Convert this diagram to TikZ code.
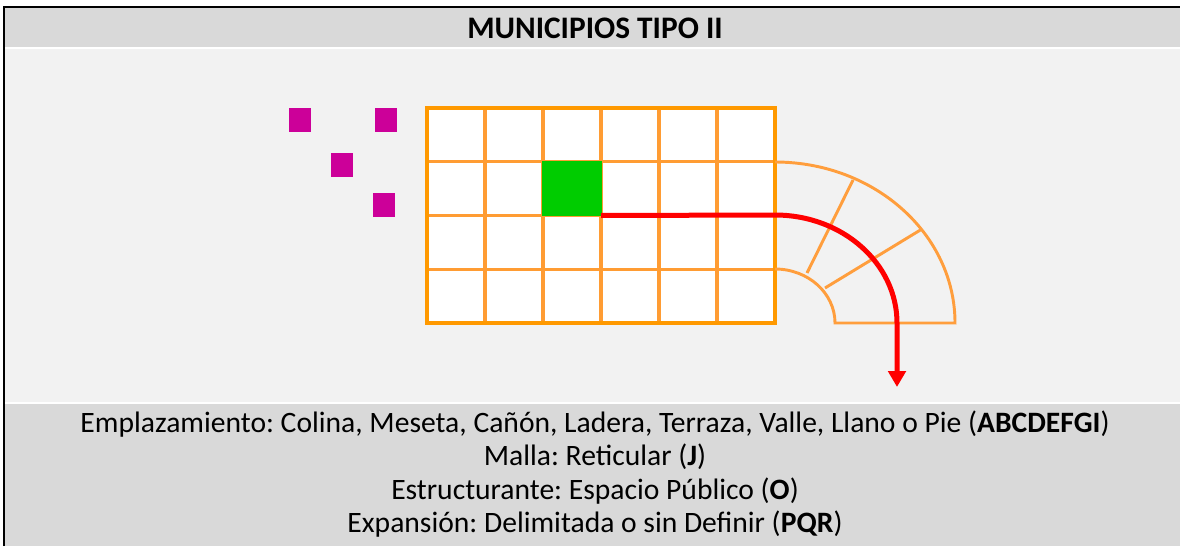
\documentclass[tikz,border=0pt]{standalone}
\usepackage{fontspec}
\setmainfont{Carlito}
\usetikzlibrary{arrows.meta,positioning}
\frenchspacing

\definecolor{hdrgray}{HTML}{D9D9D9}
\definecolor{panelgray}{HTML}{F2F2F2}
\definecolor{gridorange}{HTML}{FF9900}
\definecolor{cellorange}{HTML}{FF9C33}
\definecolor{arcorange}{HTML}{FF9E3D}
\definecolor{cellgreen}{HTML}{00CC00}
\definecolor{lotmagenta}{HTML}{CC0099}

\begin{document}
\begin{tikzpicture}[
  x=0.75pt, y=-0.75pt,
  font=\fontsize{22.2}{24.8}\selectfont\frenchspacing,
  >=Triangle,
  cell/.style={draw=cellorange, fill=white, line width=2.3pt, minimum width=43.5pt, minimum height=40.31pt, inner sep=0pt, outer sep=0pt},
  lot/.style={fill=lotmagenta, minimum width=16.5pt, minimum height=18pt, inner sep=0pt},
  band/.style={draw=arcorange, line width=2.2pt},
  flow/.style={draw=red, line width=3.75pt, arrows={-Triangle[width=13pt,length=12pt]}}
]
\useasboundingbox (0,0) rectangle (1180,546);

% panels
\fill[hdrgray] (4,7) rectangle (1180,47);
\fill[panelgray] (4,49) rectangle (1180,402);
\fill[hdrgray] (4,404) rectangle (1180,546);
\draw[line width=1.6pt] (4,546) -- (4,7) -- (1180,7);

\node[font=\fontsize{23.5}{28}\selectfont\bfseries] (title) at (595,28) {MUNICIPIOS TIPO II};

% grid of blocks
\foreach \i in {0,...,5}
  \foreach \j in {0,...,3}
    \node[cell] (c\i\j) at ({456+58*\i},{134.875+53.75*\j}) {};
\node[cell, draw=none, fill=cellgreen, minimum width=45pt, minimum height=41.8pt] (green) at (c21) {};
\draw[gridorange, line width=2.4pt] (c00.north west) rectangle (c53.south east);

% scattered lots
\node[lot] (lot1) at (300,120) {};
\node[lot] (lot2) at (386,120) {};
\node[lot] (lot3) at (342,165) {};
\node[lot] (lot4) at (384,205) {};

% curved extension
\draw[band] (775,162) arc[start angle=90, end angle=0, x radius=135pt, y radius=120.75pt]
  -- (835,323) arc[start angle=0, end angle=90, x radius=45pt, y radius=40.5pt];
\draw[band] (807,273) -- (853,180);
\draw[band] (825,288) -- (922,229);

% expansion route
\coordinate (bend) at (775,215);
\coordinate (tip) at (897,387);
\draw[flow] (c21.south east) -- (bend)
  arc[start angle=90, end angle=0, x radius=91.5pt, y radius=81pt] -- (tip);

\node[align=center, anchor=north, inner sep=0pt] (caption) at (595,411) {Emplazamiento: Colina, Meseta, Cañón, Ladera, Terraza, Valle, Llano o Pie (\textbf{ABCDEFGI})\\
Malla: Reticular (\textbf{J})\\
Estructurante: Espacio Público (\textbf{O})\\
Expansión: Delimitada o sin Definir (\textbf{PQR})};
\end{tikzpicture}
\end{document}
